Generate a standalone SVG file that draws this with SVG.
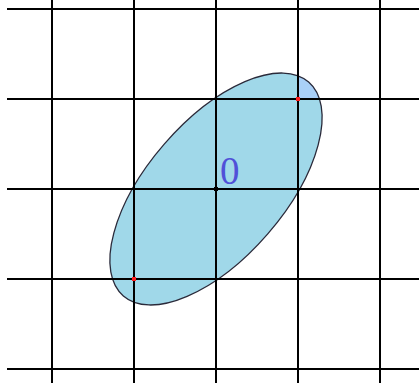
<svg xmlns="http://www.w3.org/2000/svg" width="419" height="387" viewBox="0 0 419 387">
  <style>
    .grid line { stroke: #000; stroke-width: 2; }
    .dot-red { fill: #ff2020; }
  </style>
  <defs>
    <clipPath id="ellClip">
      <ellipse cx="0" cy="0" rx="141.5" ry="68.5" transform="translate(216 189) rotate(-49.1)"/>
    </clipPath>
  </defs>
  <rect width="419" height="387" fill="#ffffff"/>
  <g id="ellipse">
    <ellipse cx="0" cy="0" rx="141.5" ry="68.5" transform="translate(216 189) rotate(-49.1)" fill="#a0d8e9"/>
    <rect x="298" y="0" width="121" height="99" fill="#a9d0f8" clip-path="url(#ellClip)"/>
    <ellipse cx="0" cy="0" rx="141.5" ry="68.5" transform="translate(216 189) rotate(-49.1)" fill="none" stroke="#2a2a3a" stroke-width="1.3"/>
  </g>
  <g id="grid" class="grid">
    <line x1="7" y1="9" x2="419" y2="9"/>
    <line x1="7" y1="99" x2="419" y2="99"/>
    <line x1="7" y1="189" x2="419" y2="189"/>
    <line x1="7" y1="279" x2="419" y2="279"/>
    <line x1="7" y1="369" x2="419" y2="369"/>
    <line x1="52" y1="0" x2="52" y2="383"/>
    <line x1="134" y1="0" x2="134" y2="383"/>
    <line x1="216" y1="0" x2="216" y2="383"/>
    <line x1="298" y1="0" x2="298" y2="383"/>
    <line x1="380" y1="0" x2="380" y2="383"/>
  </g>
  <g id="points">
    <rect x="214" y="187" width="4" height="4" fill="#000"/>
    <rect class="dot-red" x="296" y="97" width="4" height="4"/>
    <rect class="dot-red" x="132" y="277" width="4" height="4"/>
  </g>
  <g id="label">
    <text x="220" y="184" font-family="Liberation Serif, serif" font-size="39" fill="#5050d8">0</text>
  </g>
</svg>
